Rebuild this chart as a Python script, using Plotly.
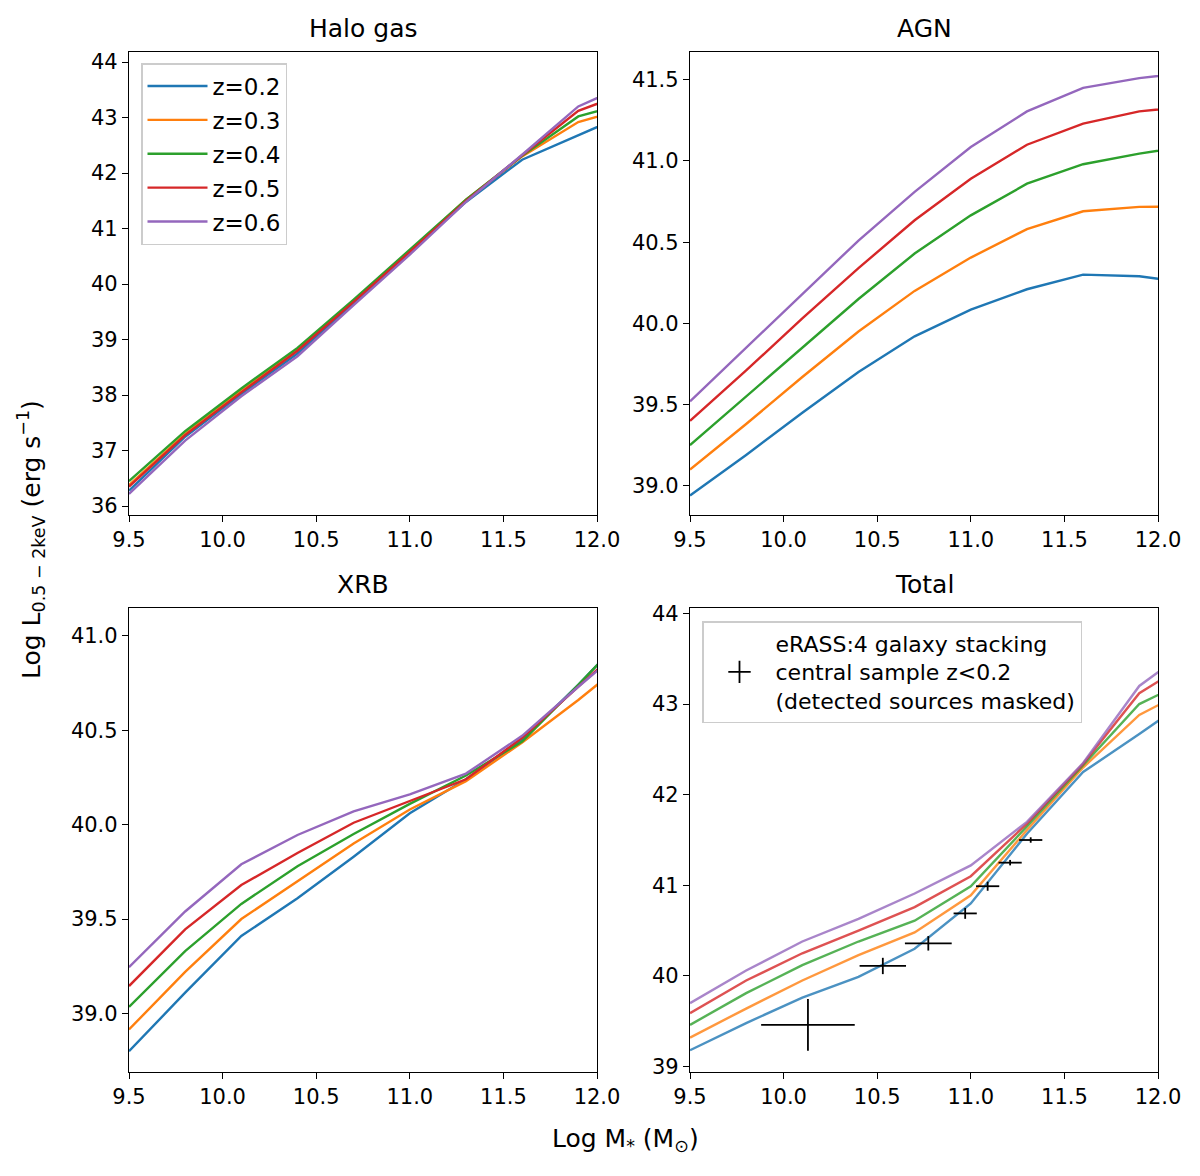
import plotly.graph_objects as go

# stellar mass grid (log M*)
log_mstar = [9.5, 9.8, 10.1, 10.4, 10.7, 11.0, 11.3, 11.6, 11.9, 12.2]
redshifts = ["z=0.2", "z=0.3", "z=0.4", "z=0.5", "z=0.6"]
colors = ["#1f77b4", "#ff7f0e", "#2ca02c", "#d62728", "#9467bd"]

# Halo gas luminosity per redshift
halo_z02 = [36.28, 37.25, 38.02, 38.75, 39.65, 40.56, 41.48, 42.24, 42.68, 43.12]
halo_z03 = [36.38, 37.30, 38.08, 38.82, 39.70, 40.60, 41.52, 42.30, 42.92, 43.20]
halo_z04 = [36.45, 37.35, 38.12, 38.85, 39.72, 40.62, 41.52, 42.31, 43.02, 43.30]
halo_z05 = [36.35, 37.28, 38.05, 38.80, 39.68, 40.58, 41.50, 42.32, 43.12, 43.50]
halo_z06 = [36.22, 37.18, 37.98, 38.70, 39.62, 40.53, 41.48, 42.33, 43.20, 43.65]

# AGN
agn_z02 = [38.94, 39.19, 39.45, 39.70, 39.92, 40.085, 40.21, 40.30, 40.29, 40.245]
agn_z03 = [39.10, 39.38, 39.67, 39.95, 40.20, 40.405, 40.58, 40.69, 40.717, 40.72]
agn_z04 = [39.25, 39.55, 39.85, 40.15, 40.43, 40.665, 40.86, 40.98, 41.045, 41.10]
agn_z05 = [39.40, 39.71, 40.03, 40.34, 40.635, 40.89, 41.10, 41.23, 41.305, 41.34]
agn_z06 = [39.52, 39.85, 40.18, 40.51, 40.81, 41.086, 41.305, 41.45, 41.51, 41.55]

# XRB
xrb_z02 = [38.80, 39.11, 39.41, 39.61, 39.83, 40.06, 40.24, 40.45, 40.74, 41.05]
xrb_z03 = [38.915, 39.22, 39.50, 39.70, 39.90, 40.08, 40.23, 40.435, 40.66, 40.90]
xrb_z04 = [39.035, 39.33, 39.58, 39.78, 39.95, 40.11, 40.26, 40.44, 40.74, 41.05]
xrb_z05 = [39.145, 39.445, 39.68, 39.85, 40.01, 40.125, 40.24, 40.46, 40.73, 41.00]
xrb_z06 = [39.245, 39.54, 39.79, 39.945, 40.07, 40.16, 40.27, 40.47, 40.73, 40.98]

# Total
tot_z02 = [39.18, 39.48, 39.76, 39.99, 40.30, 40.80, 41.57, 42.25, 42.67, 43.10]
tot_z03 = [39.32, 39.64, 39.95, 40.23, 40.48, 40.89, 41.61, 42.30, 42.88, 43.20]
tot_z04 = [39.46, 39.81, 40.12, 40.38, 40.61, 40.99, 41.65, 42.32, 43.00, 43.30]
tot_z05 = [39.59, 39.95, 40.25, 40.50, 40.76, 41.10, 41.68, 42.34, 43.12, 43.50]
tot_z06 = [39.70, 40.06, 40.38, 40.63, 40.91, 41.22, 41.70, 42.35, 43.20, 43.65]

# eRASS:4 stacking points
stack_m = [10.13, 10.53, 10.773, 10.97, 11.09, 11.21, 11.32]
stack_l = [39.46, 40.11, 40.36, 40.69, 40.99, 41.25, 41.50]
stack_m_err = [0.25, 0.124, 0.125, 0.062, 0.062, 0.062, 0.062]
stack_l_err = [0.285, 0.09, 0.08, 0.06, 0.05, 0.03, 0.03]

halo = [halo_z02, halo_z03, halo_z04, halo_z05, halo_z06]
agn = [agn_z02, agn_z03, agn_z04, agn_z05, agn_z06]
xrb = [xrb_z02, xrb_z03, xrb_z04, xrb_z05, xrb_z06]
total = [tot_z02, tot_z03, tot_z04, tot_z05, tot_z06]

W, H = 1200, 1176
OFF = 8  # page body margin
FONT = "DejaVu Sans"

fig = go.Figure()

panels = [("x", "y", halo, 1.0), ("x2", "y2", agn, 1.0),
          ("x3", "y3", xrb, 1.0), ("x4", "y4", total, 0.8)]
for p, (xa, ya, series, op) in enumerate(panels):
    for i, vals in enumerate(series):
        fig.add_trace(go.Scatter(
            x=log_mstar, y=vals, mode="lines", name=redshifts[i],
            line=dict(color=colors[i], width=2.4), opacity=op,
            xaxis=xa, yaxis=ya, legendgroup=redshifts[i],
            showlegend=(p == 0), legend="legend",
        ))

# stacking data with error bars
fig.add_trace(go.Scatter(
    x=stack_m, y=stack_l, mode="markers",
    marker=dict(size=1, color="black", opacity=0),
    error_x=dict(type="data", array=stack_m_err, color="black", thickness=1.8, width=0),
    error_y=dict(type="data", array=stack_l_err, color="black", thickness=1.8, width=0),
    xaxis="x4", yaxis="y4", showlegend=False,
))
# legend handle for the stacking data
fig.add_trace(go.Scatter(
    x=[None], y=[None], mode="markers",
    name="eRASS:4 galaxy stacking<br>central sample z&lt;0.2<br>(detected sources masked)",
    marker=dict(symbol="cross-thin", size=24, line=dict(color="black", width=1.8)),
    xaxis="x4", yaxis="y4", legend="legend2",
))


def px_x(a, b):
    return [(a - OFF) / W, (b - OFF) / W]


def px_y(top, bottom):
    return [1 - (bottom - OFF) / H, 1 - (top - OFF) / H]


def pt_x(a):
    return (a - OFF) / W


def pt_y(b):
    return 1 - (b - OFF) / H


xd_left, xd_right = px_x(129, 597), px_x(690, 1158)
yd_top, yd_bot = px_y(51.5, 515), px_y(608, 1072)

tick_font = dict(family=FONT, size=21, color="black")


def xaxis(domain, anchor):
    return dict(domain=domain, anchor=anchor, range=[9.5, 12.0],
                tickvals=[9.5, 10.0, 10.5, 11.0, 11.5, 12.0], tickformat=".1f",
                ticks="outside", ticklen=6, tickwidth=1.2, tickcolor="black",
                showline=True, linecolor="black", linewidth=1.3, mirror=True,
                showgrid=False, zeroline=False, tickfont=tick_font, automargin=False)


def yaxis(domain, anchor, rng, vals, fmt):
    return dict(domain=domain, anchor=anchor, range=rng, tickvals=vals, tickformat=fmt,
                ticks="outside", ticklen=6, tickwidth=1.2, tickcolor="black",
                showline=True, linecolor="black", linewidth=1.3, mirror=True,
                showgrid=False, zeroline=False, tickfont=tick_font, automargin=False)


titles = [("Halo gas", xd_left, yd_top), ("AGN", xd_right, yd_top),
          ("XRB", xd_left, yd_bot), ("Total", xd_right, yd_bot)]
annotations = []
for text, xd, yd in titles:
    annotations.append(dict(text=text, x=(xd[0] + xd[1]) / 2, y=yd[1] + 7 / H,
                            xref="paper", yref="paper", xanchor="center", yanchor="bottom",
                            showarrow=False, font=dict(family=FONT, size=25, color="black")))
annotations.append(dict(text="Log L<sub>0.5 − 2keV</sub> (erg s<sup>−1</sup>)",
                        x=pt_x(31), y=pt_y(540), xref="paper", yref="paper",
                        textangle=-90, showarrow=False, xanchor="center", yanchor="middle",
                        font=dict(family=FONT, size=25, color="black")))
annotations.append(dict(text="Log M<sub>*</sub> (M<sub>⊙</sub>)",
                        x=pt_x(625), y=pt_y(1140), xref="paper", yref="paper",
                        showarrow=False, xanchor="center", yanchor="middle",
                        font=dict(family=FONT, size=25, color="black")))

fig.update_layout(
    width=W, height=H,
    margin=dict(l=0, r=0, t=0, b=0),
    paper_bgcolor="white", plot_bgcolor="white",
    font=dict(family=FONT, color="black"),
    xaxis=xaxis(xd_left, "y"),
    yaxis=yaxis(yd_top, "x", [35.84, 44.19], [36, 37, 38, 39, 40, 41, 42, 43, 44], "d"),
    xaxis2=xaxis(xd_right, "y2"),
    yaxis2=yaxis(yd_top, "x2", [38.82, 41.674], [39.0, 39.5, 40.0, 40.5, 41.0, 41.5], ".1f"),
    xaxis3=xaxis(xd_left, "y3"),
    yaxis3=yaxis(yd_bot, "x3", [38.69, 41.147], [39.0, 39.5, 40.0, 40.5, 41.0], ".1f"),
    xaxis4=xaxis(xd_right, "y4"),
    yaxis4=yaxis(yd_bot, "x4", [38.94, 44.06], [39, 40, 41, 42, 43, 44], "d"),
    legend=dict(x=pt_x(141), y=pt_y(63), xanchor="left", yanchor="top",
                bgcolor="rgba(255,255,255,0.8)", bordercolor="#cccccc", borderwidth=1.5,
                font=dict(family=FONT, size=23, color="black"), tracegroupgap=1,
                itemwidth=60),
    legend2=dict(x=pt_x(702), y=pt_y(621), xanchor="left", yanchor="top",
                 bgcolor="rgba(255,255,255,0.8)", bordercolor="#cccccc", borderwidth=1.5,
                 font=dict(family=FONT, size=22, color="black"), itemwidth=62),
    annotations=annotations,
)

fig.write_html("out.html")
